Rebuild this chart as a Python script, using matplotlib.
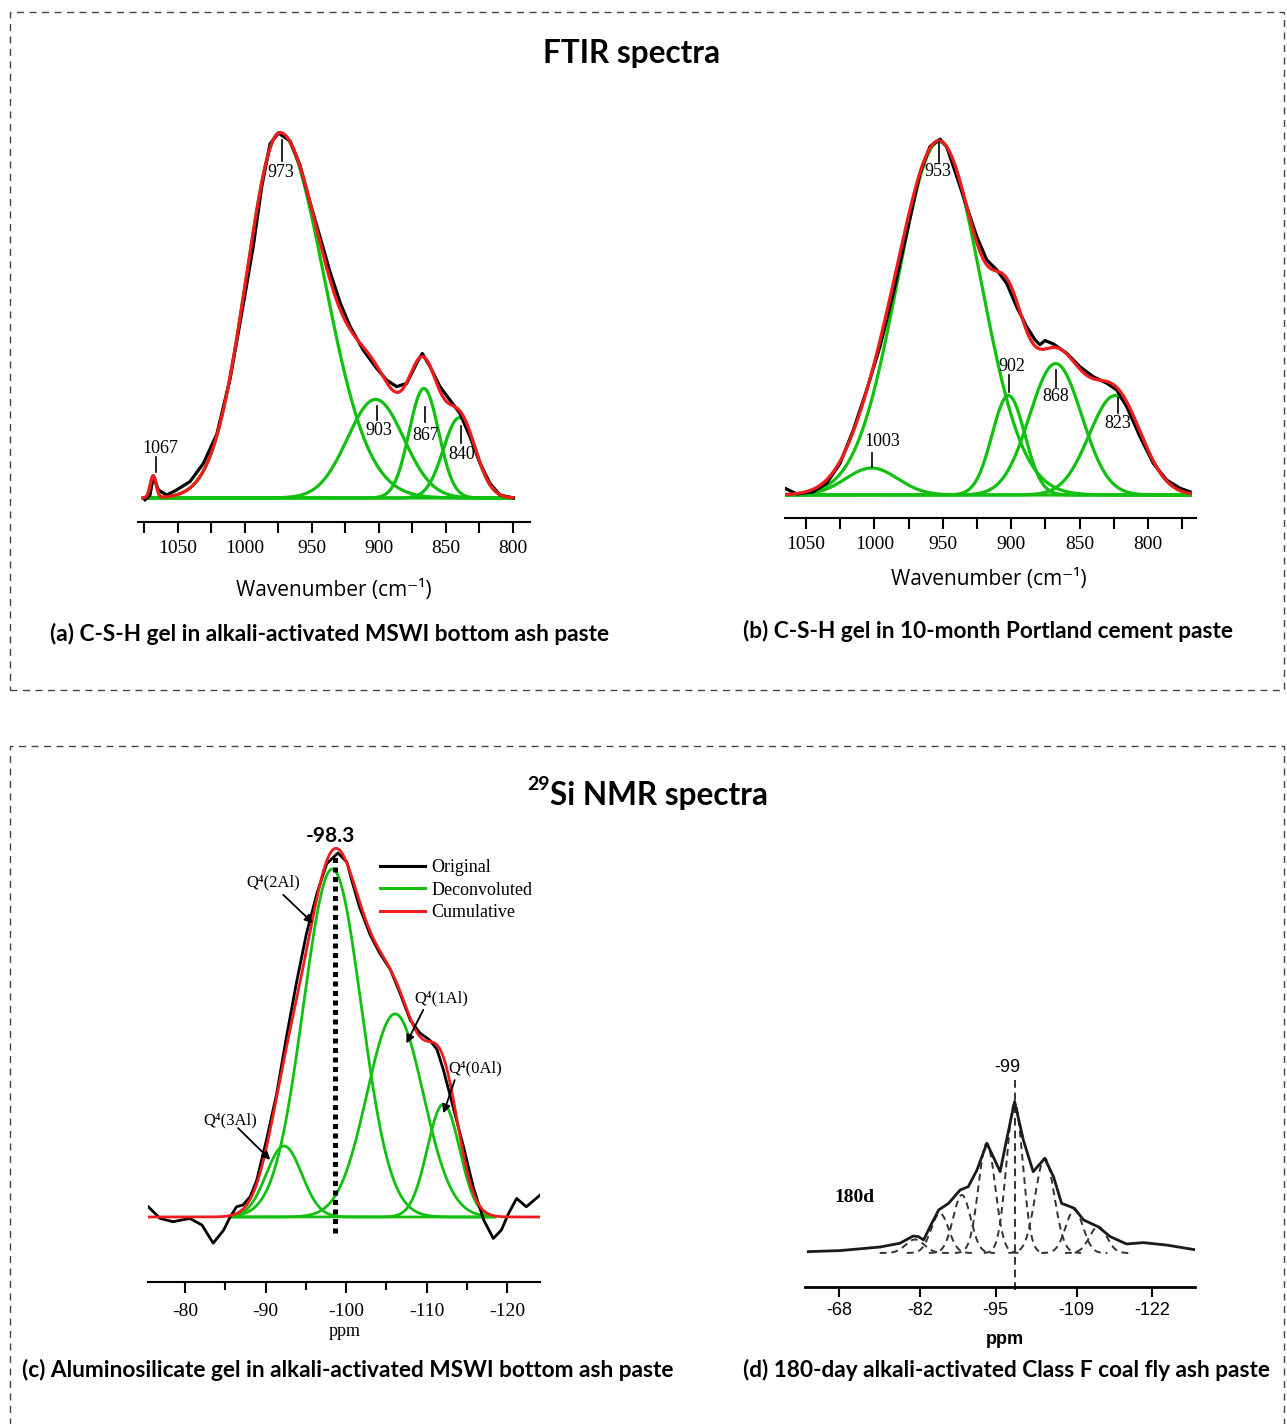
import numpy as np
import matplotlib
matplotlib.use("Agg")
import matplotlib.pyplot as plt
from matplotlib.patches import Rectangle
from matplotlib.lines import Line2D

# ---------------- data ----------------
# (a) FTIR, C-S-H gel in alkali-activated MSWI bottom ash paste
a_centers = [1068.5, 974.0, 902.5, 866.5, 840.0]
a_heights = [0.06, 1.0, 0.27, 0.30, 0.22]
a_w_hi = [2.2, 25.0, 21.0, 11.0, 12.0]   # width on high-wavenumber side
a_w_lo = [2.2, 33.0, 21.0, 11.0, 12.0]   # width on low-wavenumber side
a_labels = ["1067", "973", "903", "867", "840"]
a_orig_x = [1074.6, 1070.9, 1068.4, 1064.7, 1058.4, 1051.0, 1041.0, 1031.0, 1021.0,
            1011.2, 1001.3, 993.8, 987.5, 981.3, 975.1, 966.4, 959.0, 951.5, 944.0,
            936.6, 929.0, 921.6, 911.7, 901.7, 894.3, 886.8, 879.3, 871.9, 867.7,
            861.9, 854.5, 847.0, 839.6, 832.1, 824.6, 817.2, 809.7, 799.7]
a_orig_y = [-0.005, 0.008, 0.06, 0.022, 0.008, 0.022, 0.045, 0.095, 0.175,
            0.325, 0.53, 0.69, 0.853, 0.97, 1.0, 0.978, 0.912, 0.81, 0.715,
            0.62, 0.535, 0.47, 0.405, 0.355, 0.323, 0.305, 0.314, 0.369, 0.396,
            0.36, 0.305, 0.268, 0.232, 0.168, 0.095, 0.04, 0.008, 0.0]

# (b) FTIR, C-S-H gel in 10-month Portland cement paste
b_centers = [1002.0, 952.6, 902.0, 867.5, 824.0]
b_heights = [0.076, 0.995, 0.28, 0.37, 0.28]
b_widths = [19.0, 30.5, 12.0, 19.0, 19.0]
b_labels = ["1003", "953", "902", "868", "823"]
b_orig_x = [1065.4, 1056.8, 1044.7, 1034.9, 1025.1, 1015.4, 1005.6, 995.9, 986.2,
            976.4, 966.7, 959.4, 952.0, 947.2, 939.8, 932.5, 925.2, 917.9, 910.6,
            903.3, 896.0, 888.7, 882.6, 879.0, 875.3, 869.1, 859.4, 849.7, 840.0,
            830.2, 822.9, 815.6, 805.8, 796.1, 786.3, 776.6, 769.3]
b_orig_y = [0.019, 0.003, 0.009, 0.033, 0.089, 0.183, 0.296, 0.418, 0.568,
            0.737, 0.906, 0.981, 1.002, 0.981, 0.897, 0.812, 0.728, 0.662, 0.634,
            0.596, 0.53, 0.474, 0.437, 0.423, 0.435, 0.425, 0.399, 0.361, 0.333,
            0.315, 0.296, 0.249, 0.164, 0.089, 0.042, 0.019, 0.009]

# (c) 29Si NMR, aluminosilicate gel in alkali-activated MSWI bottom ash paste
c_centers = [-92.3, -98.3, -106.1, -112.1]
c_heights = [0.195, 0.956, 0.558, 0.31]
c_widths = [2.2, 3.6, 3.5, 2.0]
c_names = ["Q\u2074(3Al)", "Q\u2074(2Al)", "Q\u2074(1Al)", "Q\u2074(0Al)"]
c_orig_x = [-75.44, -76.9, -78.5, -80.6, -82.1, -83.5, -84.8, -85.6, -86.4, -87.2,
            -88.1, -88.9, -90.1, -91.4, -92.6, -93.9, -95.1, -96.4, -97.6, -99.0,
            -100.1, -100.9, -101.7, -103.0, -104.2, -105.5, -106.7, -108.0, -109.2,
            -110.4, -111.3, -112.1, -113.3, -114.6, -115.8, -117.1, -118.3, -119.3,
            -120.2, -121.2, -122.4, -124.1]
c_orig_y = [0.028, -0.004, -0.013, -0.004, -0.022, -0.072, -0.036, 0.0, 0.028, 0.033,
            0.056, 0.10, 0.21, 0.34, 0.495, 0.65, 0.78, 0.89, 0.97, 1.0,
            0.975, 0.91, 0.85, 0.775, 0.724, 0.68, 0.615, 0.54, 0.505,
            0.486, 0.46, 0.404, 0.303, 0.193, 0.083, -0.008, -0.059, -0.036,
            0.01, 0.051, 0.028, 0.06]

# (d) 29Si NMR, 180-day alkali-activated class F fly ash paste
d_centers = [-81.1, -85.4, -89.2, -93.5, -98.3, -103.5, -108.6, -112.7]
d_heights = [0.09, 0.265, 0.387, 0.731, 0.998, 0.631, 0.287, 0.176]
d_widths = [1.6, 1.5, 1.5, 1.45, 1.4, 1.65, 1.5, 1.5]
d_orig_x = [-62.7, -68.2, -75.1, -78.5, -80.8, -81.7, -82.6, -83.7, -85.2, -86.9,
            -88.9, -90.3, -91.8, -93.5, -94.6, -95.8, -96.9, -98.3, -99.8, -101.5,
            -103.5, -105.0, -106.4, -108.6, -110.2, -112.7, -114.8, -117.6, -120.5,
            -124.5, -129.7]
d_orig_y = [0.009, 0.016, 0.04, 0.065, 0.113, 0.109, 0.087, 0.175, 0.287, 0.331,
            0.42, 0.442, 0.553, 0.731, 0.642, 0.542, 0.753, 1.009, 0.753, 0.542,
            0.631, 0.509, 0.331, 0.298, 0.22, 0.175, 0.109, 0.06, 0.069,
            0.053, 0.02]
d_ticks = [-68, -82, -95, -109, -122]

W, H = 1287, 1424
RED = "#ee1c1c"
GREEN = "#11c011"
SERIF = ["Liberation Serif", "DejaVu Serif"]
CAP = ["Lato", "DejaVu Sans"]

plt.rcParams["font.family"] = SERIF
plt.rcParams["axes.unicode_minus"] = False


def rect(x0, y0, x1, y1):
    return [x0 / W, 1 - y1 / H, (x1 - x0) / W, (y1 - y0) / H]


def ftext(x, y, s, **kw):
    fig.text(x / W, 1 - y / H, s, **kw)


def peak(x, c, h, w_hi, w_lo):
    w = np.where(x >= c, w_hi, w_lo)
    return h * np.exp(-0.5 * ((x - c) / w) ** 2)


def bare_axis(ax, lw=1.5):
    for s in ["left", "right", "top"]:
        ax.spines[s].set_visible(False)
    ax.spines["bottom"].set_linewidth(lw)
    ax.set_yticks([])
    ax.patch.set_alpha(0)


fig = plt.figure(figsize=(W / 100, H / 100), dpi=100)

# dashed frames
for y0, y1 in [(12, 690), (746, 1440)]:
    fig.patches.append(Rectangle((10 / W, 1 - y1 / H), 1274 / W, (y1 - y0) / H,
                                 transform=fig.transFigure, fill=False,
                                 ec="#444444", lw=1.0, ls=(0, (5, 4))))

ftext(632, 53, "FTIR spectra", family=CAP, weight="bold", fontsize=22.7,
      ha="center", va="center")
ftext(550, 796, "Si NMR spectra", family=CAP, weight="bold", fontsize=22.7,
      ha="left", va="center")
ftext(550, 785, "29", family=CAP, weight="bold", fontsize=14, ha="right", va="center")

# ---------------- (a) ----------------
ax = fig.add_axes(rect(138, 122, 530, 522))
xa = np.linspace(1076, 800, 800)
comps = [peak(xa, c, h, wh, wl) for c, h, wh, wl in zip(a_centers, a_heights, a_w_hi, a_w_lo)]
for comp in comps:
    ax.plot(xa, comp, color=GREEN, lw=2.3, zorder=2)
ax.plot(a_orig_x, a_orig_y, color="k", lw=2.3, zorder=3)
ax.plot(xa, np.sum(comps, axis=0), color=RED, lw=2.3, zorder=4)
ax.set_xlim(1079.85, 787.3)
ax.set_ylim(-0.0658, 1.030)
ax.set_xticks([1050, 1000, 950, 900, 850, 800])
ax.set_xticks([1075, 1025, 975, 925, 875, 825], minor=True)
ax.tick_params(which="both", direction="out", length=8, width=1.5, labelsize=14, pad=5)
bare_axis(ax)
# label positions: (text x, text y, line x, line y0, line y1)
a_lab_pos = [(1063.4, 0.136, 1066.4, 0.072, 0.112),
             (973.1, 0.892, 972.2, 0.922, 0.981),
             (900.0, 0.185, 901.7, 0.214, 0.252),
             (864.9, 0.171, 865.7, 0.209, 0.250),
             (838.1, 0.118, 838.8, 0.150, 0.196)]
for lab, (tx, ty, lx, ly0, ly1) in zip(a_labels, a_lab_pos):
    ax.text(tx, ty, lab, ha="center", va="center", fontsize=13, zorder=6)
    ax.plot([lx, lx], [ly0, ly1], color="k", lw=1.2, zorder=6)
ftext(334, 591, "Wavenumber (cm\u207b\u00b9)", family=["Open Sans", "DejaVu Sans"],
      fontsize=15, ha="center", va="center")
ftext(50, 634, "(a) C-S-H gel in alkali-activated MSWI bottom ash paste", family=CAP,
      weight="bold", fontsize=16.3, ha="left", va="center")

# ---------------- (b) ----------------
ax = fig.add_axes(rect(785, 126, 1196, 518))
xb = np.linspace(1065, 769, 800)
comps = [peak(xb, c, h, w, w) for c, h, w in zip(b_centers, b_heights, b_widths)]
for comp in comps:
    ax.plot(xb, comp, color=GREEN, lw=2.3, zorder=2)
ax.plot(b_orig_x, b_orig_y, color="k", lw=2.3, zorder=3)
ax.plot(xb, np.sum(comps, axis=0), color=RED, lw=2.3, zorder=4)
ax.set_xlim(1065.35, 764.9)
ax.set_ylim(-0.0648, 1.039)
ax.set_xticks([1050, 1000, 950, 900, 850, 800])
ax.set_xticks([1025, 975, 925, 875, 825, 775], minor=True)
ax.tick_params(which="both", direction="out", length=8, width=1.5, labelsize=14, pad=5)
bare_axis(ax)
b_lab_pos = [(994.1, 0.150, 1002.0, 0.079, 0.118),
             (953.5, 0.910, 952.8, 0.938, 0.994),
             (899.4, 0.361, 901.4, 0.291, 0.338),
             (867.3, 0.276, 867.3, 0.304, 0.352),
             (822.3, 0.201, 822.2, 0.231, 0.273)]
for lab, (tx, ty, lx, ly0, ly1) in zip(b_labels, b_lab_pos):
    ax.text(tx, ty, lab, ha="center", va="center", fontsize=13, zorder=6)
    ax.plot([lx, lx], [ly0, ly1], color="k", lw=1.2, zorder=6)
ftext(989, 580, "Wavenumber (cm\u207b\u00b9)", family=["Open Sans", "DejaVu Sans"],
      fontsize=15, ha="center", va="center")
ftext(743, 631, "(b) C-S-H gel in 10-month Portland cement paste", family=CAP,
      weight="bold", fontsize=16.3, ha="left", va="center")

# ---------------- (c) ----------------
ax = fig.add_axes(rect(148, 830, 540, 1282))
xc_full = np.linspace(-75.4, -124.1, 800)
xc = np.linspace(-85.5, -118.5, 700)
comps = [peak(xc, c, h, w, w) for c, h, w in zip(c_centers, c_heights, c_widths)]
for comp in comps:
    ax.plot(xc, comp, color=GREEN, lw=2.0, zorder=2)
ax.plot(c_orig_x, c_orig_y, color="k", lw=2.0, zorder=3)
cum = np.sum([peak(xc_full, c, h, w, w) for c, h, w in zip(c_centers, c_heights, c_widths)], axis=0)
ax.plot(xc_full, cum, color=RED, lw=2.0, zorder=4)
ax.plot([-98.6, -98.6], [-0.044, 0.995], color="k", lw=3.6, ls=(0, (1, 0.9)), zorder=5)
ax.set_xlim(-75.4, -124.1)
ax.set_ylim(-0.1786, 1.063)
ax.set_xticks([-80, -90, -100, -110, -120])
ax.set_xticks([-85, -95, -105, -115], minor=True)
ax.tick_params(which="major", direction="out", length=8, width=1.5, labelsize=14, pad=7)
ax.tick_params(which="minor", direction="out", length=6, width=1.5)
bare_axis(ax)
# annotation positions: (text x, text y, tail x, tail y, head x, head y)
c_ann_pos = [(-85.6, 0.266, -86.6, 0.244, -90.6, 0.157),
             (-91.0, 0.918, -92.2, 0.885, -95.9, 0.807),
             (-111.9, 0.601, -109.6, 0.569, -107.5, 0.477),
             (-116.0, 0.409, -113.5, 0.376, -112.1, 0.285)]
for name, (tx, ty, ax0, ay0, ax1, ay1) in zip(c_names, c_ann_pos):
    ax.text(tx, ty, name, ha="center", va="center", fontsize=12, family=SERIF, zorder=6)
    ax.annotate("", xy=(ax1, ay1), xytext=(ax0, ay0), zorder=6,
                arrowprops=dict(arrowstyle="-|>", color="k", lw=1.3,
                                mutation_scale=12, shrinkA=0, shrinkB=0))
handles = [Line2D([], [], color="k", lw=2.2), Line2D([], [], color=GREEN, lw=2.2),
           Line2D([], [], color=RED, lw=2.2)]
ax.legend(handles, ["Original", "Deconvoluted", "Cumulative"], loc="upper left",
          bbox_to_anchor=(0.568, 0.955), frameon=False, fontsize=13, borderpad=0,
          handlelength=2.5, handletextpad=0.35, labelspacing=0.3)
ftext(330, 836, "-98.3", family=CAP, weight="bold", fontsize=15, ha="center", va="center")
ftext(345, 1332, "ppm", fontsize=13, ha="center", va="center")
ftext(22, 1370, "(c) Aluminosilicate gel in alkali-activated MSWI bottom ash paste",
      family=CAP, weight="bold", fontsize=16.3, ha="left", va="center")

# ---------------- (d) ----------------
ax = fig.add_axes(rect(805, 1050, 1195, 1287))
for c, h, w in zip(d_centers, d_heights, d_widths):
    xd = np.linspace(c + 3.8 * w, c - 3.8 * w, 200)
    ax.plot(xd, peak(xd, c, h, w, w), color="#333333", lw=1.4, ls=(0, (3.5, 2.5)), zorder=2)
ax.plot(d_orig_x, d_orig_y, color="#1a1a1a", lw=2.0, zorder=3)
ax.plot([-98.3, -98.3], [-0.247, 1.17], color="#333333", lw=1.4, ls=(0, (4, 2.5)),
        zorder=2, clip_on=False)
ax.set_xlim(-62.13, -129.42)
ax.set_ylim(-0.2267, 1.353)
ax.set_xticks(d_ticks)
ax.set_xticklabels([str(t) for t in d_ticks], family="Liberation Sans")
ax.tick_params(which="major", direction="out", length=7, width=1.5, labelsize=13, pad=4)
bare_axis(ax, lw=2.0)
ftext(1007, 1068, "-99", family="Liberation Sans", fontsize=13, ha="center", va="center")
ftext(855, 1197, "180d", family=SERIF, weight="bold", fontsize=14, ha="center", va="center")
ftext(1005, 1340, "ppm", family="Liberation Sans", weight="bold", fontsize=13,
      ha="center", va="center")
ftext(743, 1370, "(d) 180-day alkali-activated Class F coal fly ash paste",
      family=CAP, weight="bold", fontsize=16.3, ha="left", va="center")

fig.savefig("out.png", dpi=100)
